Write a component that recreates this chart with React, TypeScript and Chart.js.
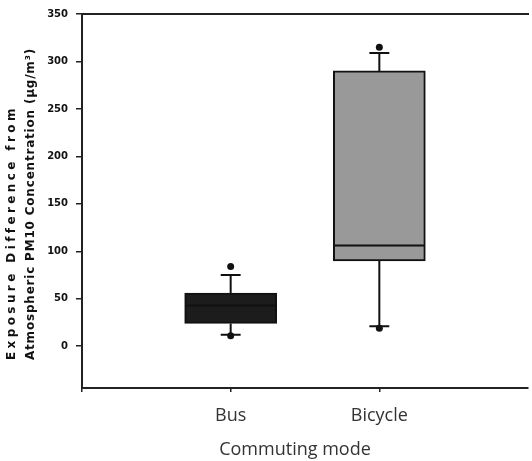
import React, { useEffect, useRef } from "react";
import { Chart, registerables } from "chart.js";

Chart.register(...registerables);

const categories = ["Bus", "Bicycle"];
const q1Values = [24, 90];
const medianValues = [43, 106];
const q3Values = [56, 290];
const whiskerLow = [12, 21];
const whiskerHigh = [75, 309];
const outlierLow = [11, 19];
const outlierHigh = [84, 315];
const yTickValues = [0, 50, 100, 150, 200, 250, 300, 350];
const boxColors = ["#1c1c1c", "#999999"];
const yTitleLines = ["Exposure Difference from", "Atmospheric PM10 Concentration (µg/m³)"];
const xTitle = "Commuting mode";

const BOX_HALF = 0.305;
const CAP_HALF = 0.067;

export default function App() {
  const ref = useRef<HTMLCanvasElement | null>(null);

  useEffect(() => {
    document.body.style.margin = "0";
    const canvas = ref.current;
    if (!canvas) return;

    const boxDatasets = categories.map((c, i) => ({
      type: "bar" as const,
      label: c,
      data: [{ x: i + 1, y: [q1Values[i], q3Values[i]] }],
      backgroundColor: boxColors[i],
      borderColor: "#111",
      borderWidth: 2,
      borderSkipped: false,
      barThickness: 92,
      grouped: false,
      order: 10,
      xAxisID: "x",
      yAxisID: "y",
    }));

    const whiskerData: any[] = [];
    const capData: any[] = [];
    const medianData: any[] = [];
    categories.forEach((_, i) => {
      const p = i + 1;
      whiskerData.push({ x: p, y: q3Values[i] }, { x: p, y: whiskerHigh[i] }, { x: p, y: null });
      whiskerData.push({ x: p, y: q1Values[i] }, { x: p, y: whiskerLow[i] }, { x: p, y: null });
      capData.push({ x: p - CAP_HALF, y: whiskerHigh[i] }, { x: p + CAP_HALF, y: whiskerHigh[i] }, { x: p, y: null });
      capData.push({ x: p - CAP_HALF, y: whiskerLow[i] }, { x: p + CAP_HALF, y: whiskerLow[i] }, { x: p, y: null });
      medianData.push({ x: p - BOX_HALF, y: medianValues[i] }, { x: p + BOX_HALF, y: medianValues[i] }, { x: p, y: null });
    });

    const outlierData: any[] = [];
    categories.forEach((_, i) => {
      outlierData.push({ x: i + 1, y: outlierHigh[i] }, { x: i + 1, y: outlierLow[i] });
    });

    const lineCommon = {
      type: "line" as const,
      borderColor: "#111",
      borderWidth: 2,
      pointRadius: 0,
      spanGaps: false,
      fill: false,
      order: 1,
      xAxisID: "x",
      yAxisID: "y",
    };

    const titlePlugin = {
      id: "customTitles",
      afterDraw(chart: any) {
        const { ctx } = chart;
        const y = chart.scales.y;
        ctx.save();
        ctx.fillStyle = "#111";
        ctx.textAlign = "left";
        ctx.textBaseline = "middle";
        const fonts = ['bold 12px "DejaVu Sans"', 'bold 12px "DejaVu Sans"'];
        const spacing = ["3.4px", "0.8px"];
        const xs = [12, 31];
        yTitleLines.forEach((line, i) => {
          ctx.save();
          ctx.font = fonts[i];
          ctx.translate(xs[i], y.bottom - 28);
          ctx.rotate(-Math.PI / 2);
          (ctx as any).letterSpacing = spacing[i];
          ctx.fillText(line, 0, 0);
          ctx.restore();
        });
        ctx.fillStyle = "#333";
        ctx.font = '18px "Open Sans"';
        ctx.textAlign = "center";
        ctx.textBaseline = "alphabetic";
        ctx.fillText(xTitle, 295, 455);
        ctx.restore();
      },
    };

    const chart = new Chart(canvas, {
      type: "bar",
      data: {
        datasets: [
          ...boxDatasets,
          { ...lineCommon, label: "whiskers", data: whiskerData },
          { ...lineCommon, label: "caps", data: capData },
          { ...lineCommon, label: "medians", data: medianData, borderColor: "#111", order: 2 },
          {
            type: "scatter" as const,
            label: "outliers",
            data: outlierData,
            pointRadius: 3.5,
            pointBackgroundColor: "#111",
            pointBorderColor: "#111",
            pointBorderWidth: 0,
            order: 0,
            xAxisID: "x",
            yAxisID: "y",
          },
        ] as any,
      },
      options: {
        responsive: false,
        animation: false,
        layout: { padding: { top: 12, left: 0, right: 0, bottom: 0 } },
        plugins: { legend: { display: false }, tooltip: { enabled: false }, title: { display: false } },
        scales: {
          x: {
            type: "linear",
            position: "bottom",
            min: 0,
            max: 3,
            offset: false,
            afterBuildTicks: (scale: any) => {
              scale.ticks = [{ value: 0 }, ...categories.map((_, i) => ({ value: i + 1 }))];
            },
            afterFit: (scale: any) => {
              scale.height = 73;
            },
            ticks: {
              autoSkip: false,
              maxRotation: 0,
              padding: 13,
              color: "#333",
              font: { family: "Open Sans", size: 18 },
              callback: (v: any) => (v >= 1 && v <= categories.length ? categories[v - 1] : ""),
            },
            grid: { display: true, offset: false, drawOnChartArea: false, drawTicks: true, tickLength: 4, color: "#222", lineWidth: 1.5 },
            border: { display: true, color: "#222", width: 2 },
          },
          xTop: {
            type: "linear",
            position: "top",
            min: 0,
            max: 3,
            ticks: { display: false },
            grid: { display: false, drawTicks: false },
            border: { display: true, color: "#222", width: 2 },
            afterFit: (scale: any) => {
              scale.height = 0;
            },
          },
          y: {
            type: "linear",
            min: -44,
            max: 350,
            afterBuildTicks: (scale: any) => {
              scale.ticks = yTickValues.map((v) => ({ value: v }));
            },
            afterFit: (scale: any) => {
              scale.width = 82;
            },
            ticks: {
              padding: 8,
              color: "#111",
              font: { family: "DejaVu Sans", size: 10, weight: "bold" },
            },
            grid: { display: true, drawOnChartArea: false, drawTicks: true, tickLength: 6, color: "#222", lineWidth: 1.5 },
            border: { display: true, color: "#222", width: 2 },
          },
        },
      } as any,
      plugins: [titlePlugin],
    });

    return () => chart.destroy();
  }, []);

  return (
    <div style={{ width: 532, height: 461 }}>
      <canvas ref={ref} width={532} height={461} style={{ display: "block" }} />
    </div>
  );
}
